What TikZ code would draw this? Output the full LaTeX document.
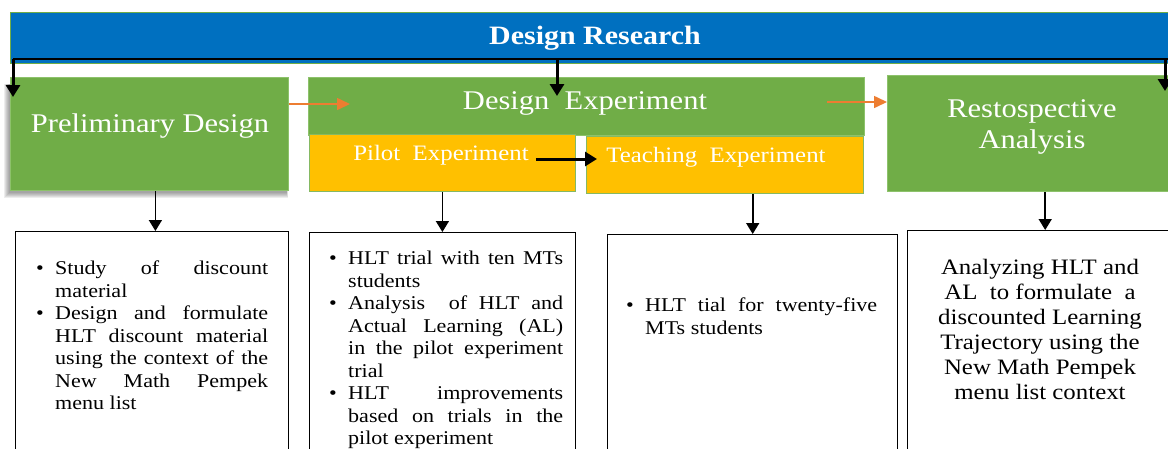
\documentclass[tikz,border=0pt]{standalone}
\usepackage{fontspec}
\setmainfont{Liberation Serif}[FakeStretch=1.13]
\usetikzlibrary{arrows.meta}
\definecolor{drblue}{HTML}{0070C0}
\definecolor{drgreen}{HTML}{70AD47}
\definecolor{dredge}{HTML}{8DC26B}
\definecolor{dryellow}{HTML}{FFC000}
\definecolor{drorange}{HTML}{ED7D31}
\newcommand{\bitem}[1]{\par\noindent\hangindent=19pt\hangafter=1\makebox[19pt][l]{\textbullet}#1\par}
\hbadness=10000
\tikzset{
  greenbox/.style={fill=drgreen, draw=dredge, line width=0.8pt, inner sep=0pt, anchor=north west},
  yellowbox/.style={fill=dryellow, draw=drgreen!85!white, line width=0.8pt, inner sep=0pt, anchor=north west},
  textbox/.style={draw=black, line width=1.4pt, fill=white, inner sep=0pt, anchor=north west},
  head/.style={text=white, font=\fontsize{27}{31}\selectfont, align=center, inner sep=0pt},
  subhead/.style={text=white, font=\fontsize{22}{25}\selectfont, inner sep=0pt},
  body/.style={font=\fontsize{19.5}{22.5}\selectfont, align=justify, inner sep=0pt, anchor=north west},
  arr/.style={line width=1.6pt, -{Triangle[width=13pt,length=11pt]}},
  thickarr/.style={line width=3pt, -{Triangle[width=14pt,length=12pt]}},
  oarr/.style={draw=drorange, line width=1.6pt, -{Triangle[width=12pt,length=13pt]}},
  softshadow/.style={fill=black, opacity=0.07}
}
\begin{document}
\begin{tikzpicture}[x=1pt,y=-1pt]
\useasboundingbox (0,0) rectangle (1168,448);
\clip (0,0) rectangle (1168,448);
% top bar
\node[fill=drblue, draw=drgreen, line width=0.8pt, inner sep=0pt, anchor=north west,
      minimum width=1170pt, minimum height=51pt] (bar) at (10,12) {};
\coordinate (jl) at (13,59);
\coordinate (jm) at (557,59);
\coordinate (jr) at (1165,59);
\coordinate (jend) at (1180,59);
\draw[line width=2.4pt] (jl) -- (jend);
\node[text=white, font=\bfseries\fontsize{26.5}{30}\selectfont, inner sep=0pt] (drT) at (595,38) {Design Research};
% soft shadow of the preliminary design box (left and bottom)
\foreach \e in {0,1,2,3,4,5}
  \fill[softshadow] (8.5-\e,84) rectangle (286.5+0.3*\e,193+\e);
% phase boxes
\node[greenbox, minimum width=278pt, minimum height=113pt] (prelim) at (10,77) {};
\node[greenbox, minimum width=556pt, minimum height=58pt] (desexp) at (308,77) {};
\node[yellowbox, minimum width=266pt, minimum height=57pt] (pilot) at (309,134) {};
\node[yellowbox, minimum width=277pt, minimum height=57pt] (teach) at (586,136) {};
\node[greenbox, minimum width=295pt, minimum height=116pt] (resto) at (887,75) {};
\node[head] (prelimT) at (150,126) {Preliminary Design};
\node[head] (desexpT) at (585,103) {Design\ \ Experiment};
\node[head] (restoT) at (1032,127) {Restospective\\Analysis};
\node[subhead] (pilotT) at (441,155) {Pilot\ \ Experiment};
\node[subhead] (teachT) at (716,157) {Teaching\ \ Experiment};
% bottom boxes
\node[textbox, minimum width=273pt, minimum height=240pt] (b1) at (15,231) {};
\node[textbox, minimum width=266pt, minimum height=240pt] (b2) at (309,232) {};
\node[textbox, minimum width=290pt, minimum height=240pt] (b3) at (607,234) {};
\node[textbox, minimum width=275pt, minimum height=240pt] (b4) at (907,230) {};
\node[body, text width=232pt] (b1T) at (36,252) {%
\bitem{Study of discount\linebreak material}
\bitem{Design and formulate\linebreak HLT discount material\linebreak using the context of the\linebreak New Math Pempek\linebreak menu list}};
\node[body, text width=234pt] (b2T) at (329,242) {%
\bitem{HLT trial with ten MTs\linebreak students}
\bitem{Analysis\ \ of HLT and\linebreak Actual Learning (AL)\linebreak in the pilot experiment\linebreak trial}
\bitem{HLT improvements\linebreak based on trials in the\linebreak pilot experiment}};
\node[body, text width=251pt] (b3T) at (626,289) {%
\bitem{HLT tial for twenty-five\linebreak MTs students}};
\node[font=\fontsize{22}{25}\selectfont, align=center, inner sep=0pt, anchor=north] (b4T) at (1040,259)
  {Analyzing HLT and\\AL\ \ to formulate\ \ a\\discounted Learning\\Trajectory using the\\New Math Pempek\\menu list context};
% arrows from the bar
\draw[thickarr] (jl) -- ([yshift=-20pt]jl |- prelim.north);
\draw[thickarr] (jm) -- ([yshift=-19pt]jm |- desexp.north);
\draw[thickarr] (jr) -- ([yshift=-16pt]jr |- resto.north);
% orange flow arrows
\draw[oarr] (prelim.east |- 0,104) -- ([xshift=42pt]desexp.west |- 0,104);
\draw[oarr] ([xshift=-38pt]desexp.east |- 0,102) -- (resto.west |- 0,102);
% pilot to teaching
\draw[thickarr] ([xshift=-40pt]pilot.east |- 0,159) -- ([xshift=11pt]teach.west |- 0,159);
% down arrows
\draw[arr] ([xshift=6pt]prelim.south) -- ([xshift=6pt]prelim.south |- b1.north);
\draw[arr] (pilot.south) -- (pilot.south |- b2.north);
\draw[arr] (teach.south -| b3.north) -- (b3.north);
\draw[arr] (resto.south -| b4.north) -- (b4.north);
\end{tikzpicture}
\end{document}
